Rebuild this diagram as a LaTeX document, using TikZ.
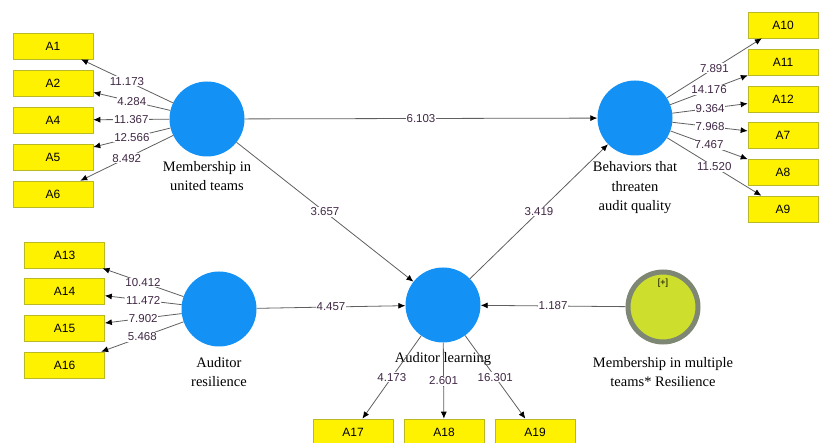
\documentclass[tikz,border=0pt]{standalone}
\usepackage{fontspec}
\setmainfont{Liberation Serif}
\newfontfamily\plssans{Liberation Sans}
\usepackage{tikz}
\usetikzlibrary{arrows.meta}
\definecolor{plsblue}{RGB}{20,145,245}
\definecolor{modgreen}{RGB}{205,222,45}
\definecolor{modgray}{RGB}{125,135,115}
\definecolor{itemedge}{RGB}{185,185,40}
\definecolor{valtext}{RGB}{65,40,70}
\definecolor{pathgray}{RGB}{95,95,95}

\begin{document}
\begin{tikzpicture}[x=1pt,y=-1pt,
  latent/.style={circle, fill=plsblue, minimum size=75pt, inner sep=0pt},
  modlatent/.style={circle, fill=modgreen, draw=modgray, line width=5pt,
       minimum size=70pt, inner sep=0pt},
  item/.style={rectangle, fill=yellow, draw=itemedge, line width=0.6pt,
       minimum width=80pt, minimum height=26pt, inner sep=0pt,
       font=\plssans\fontsize{12}{14}\selectfont},
  ritem/.style={item, minimum width=70pt},
  lvname/.style={align=center, font=\fontsize{14.5}{19.5}\selectfont},
  val/.style={fill=white, inner sep=0.8pt, text=valtext,
       font=\plssans\fontsize{11.5}{13}\selectfont},
  edge/.style={draw=pathgray, line width=0.8pt,
       -{Latex[length=7pt,width=6pt,black]}}]

\useasboundingbox (0,0) rectangle (819,443);

\node[latent] (mut) at (207,119) {};
\node[latent] (btaq) at (635,118) {};
\node[latent] (ar) at (219,309) {};
\node[latent] (al) at (443,305) {};
\node[modlatent] (mmt) at (663,307) {};
\node[font=\plssans\fontsize{9}{10}\selectfont] (plus) at (663,283) {[+]};

\node[lvname] (mutname) at (207,176) {Membership in\\united teams};
\node[lvname] (btaqname) at (635,188) {Behaviors that\\threaten\\audit quality};
\node[lvname] (arname) at (219,372) {Auditor\\resilience};
\node[lvname] (alname) at (443,359) {Auditor learning};
\node[lvname] (mmtname) at (663,372) {Membership in multiple\\teams* Resilience};

\node[item] (a1) at (53,46) {A1};
\node[item] (a2) at (53,83) {A2};
\node[item] (a4) at (53,120) {A4};
\node[item] (a5) at (53,157) {A5};
\node[item] (a6) at (53,194) {A6};

\node[ritem] (a10) at (783,25) {A10};
\node[ritem] (a11) at (783,62) {A11};
\node[ritem] (a12) at (783,99) {A12};
\node[ritem] (a7) at (783,135) {A7};
\node[ritem] (a8) at (783,172) {A8};
\node[ritem] (a9) at (783,209) {A9};

\node[item] (a13) at (64.5,255) {A13};
\node[item] (a14) at (64.5,291) {A14};
\node[item] (a15) at (64.5,328) {A15};
\node[item] (a16) at (64.5,365) {A16};

\node[item] (a17) at (353,432) {A17};
\node[item] (a18) at (444,432) {A18};
\node[item] (a19) at (535,432) {A19};

\draw[edge] (mut) -- node[val] {11.173} (a1);
\draw[edge] (mut) -- node[val] {4.284} (a2);
\draw[edge] (mut) -- node[val] {11.367} (a4);
\draw[edge] (mut) -- node[val] {12.566} (a5);
\draw[edge] (mut) -- node[val] {8.492} (a6);

\draw[edge] (btaq) -- node[val] {7.891} (a10);
\draw[edge] (btaq) -- node[val] {14.176} (a11);
\draw[edge] (btaq) -- node[val] {9.364} (a12);
\draw[edge] (btaq) -- node[val] {7.968} (a7);
\draw[edge] (btaq) -- node[val] {7.467} (a8);
\draw[edge] (btaq) -- node[val] {11.520} (a9);

\draw[edge] (ar) -- node[val] {10.412} (a13);
\draw[edge] (ar) -- node[val] {11.472} (a14);
\draw[edge] (ar) -- node[val] {7.902} (a15);
\draw[edge] (ar) -- node[val] {5.468} (a16);

\draw[edge] (al) -- node[val] {4.173} (a17);
\draw[edge] (al) -- node[val] {2.601} (a18);
\draw[edge] (al) -- node[val] {16.301} (a19);

\draw[edge] (mut) -- node[val] {6.103} (btaq);
\draw[edge] (mut) -- node[val] {3.657} (al);
\draw[edge] (al) -- node[val] {3.419} (btaq);
\draw[edge] (ar) -- node[val] {4.457} (al);
\draw[edge] (mmt) -- node[val] {1.187} (al);
\end{tikzpicture}
\end{document}
